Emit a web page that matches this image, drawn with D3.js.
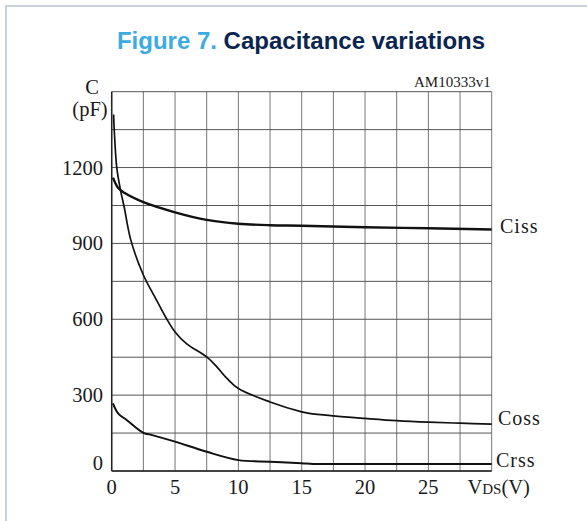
<!DOCTYPE html>
<html>
<head>
<meta charset="utf-8">
<script src="https://cdn.jsdelivr.net/npm/d3@7"></script>
<style>
  body { margin: 0; background: #fff; }
  svg text { font-family: "Liberation Serif", "Times New Roman", serif; fill: #1a1a1a; }
</style>
</head>
<body>
<div id="chart"></div>
<script>
// data (VDS in V, C in pF)
var vdsCiss = [0.1, 0.5, 1, 2.5, 5, 7.5, 10, 12.5, 15, 20, 25, 30];
var ciss    = [1160, 1120, 1100, 1063, 1023, 993, 978, 972, 970, 964, 960, 955];
var vdsCoss = [0.15, 0.2, 0.4, 0.7, 1.0, 1.5, 2.5, 3.55, 4.3, 5, 5.9, 7.5, 8.3, 9.1, 10, 12.5, 15, 15.6, 17.5, 20, 22.5, 25, 27.5, 30];
var coss    = [1410, 1350, 1200, 1110, 1040, 915, 775, 675, 605, 550, 504, 451, 412, 366, 326, 273, 234, 228, 218, 208, 199, 193, 189, 185];
var vdsCrss = [0.1, 0.5, 1.2, 2.5, 3.2, 5, 7.5, 10, 12.5, 15, 15.9, 20, 25, 30];
var crss    = [267, 228, 201, 151, 142, 116, 76, 43, 37, 31, 28, 28, 28, 28];
var seriesNames = ["Ciss", "Coss", "Crss"];
var xTickLabels = [0, 5, 10, 15, 20, 25];
var yTickLabels = [0, 300, 600, 900, 1200];
var xGrid = d3.range(0, 30.01, 2.5);
var yGrid = d3.range(0, 1500.01, 150);

var W = 587, H = 521;
var x = d3.scaleLinear().domain([0, 30]).range([111.7, 491.7]);
var y = d3.scaleLinear().domain([0, 1500]).range([471, 91.7]);

var svg = d3.select('#chart').append('svg')
  .attr('width', W).attr('height', H);

// card border (top and left visible)
svg.append('rect')
  .attr('x', 6).attr('y', 6).attr('width', W + 20).attr('height', H + 20)
  .attr('fill', 'none').attr('stroke', '#c9d2d8').attr('stroke-width', 2);

// title
var title = svg.append('text')
  .attr('x', 301).attr('y', 49).attr('text-anchor', 'middle')
  .style('font-family', '"Liberation Sans", Arial, sans-serif')
  .style('font-weight', 'bold').style('font-size', '24px');
title.append('tspan').text('Figure 7. ').style('fill', '#3dabe2');
title.append('tspan').text('Capacitance variations').style('fill', '#0a2550');

// grid
svg.append('g').selectAll('line.v')
  .data(xGrid).enter().append('line')
  .attr('x1', d => x(d)).attr('x2', d => x(d))
  .attr('y1', y(0)).attr('y2', y(1500))
  .attr('stroke', '#777').attr('stroke-width', 1);
svg.append('g').selectAll('line.h')
  .data(yGrid).enter().append('line')
  .attr('x1', x(0)).attr('x2', x(30))
  .attr('y1', d => y(d)).attr('y2', d => y(d))
  .attr('stroke', '#555').attr('stroke-width', 1);

// axes lines
svg.append('line').attr('x1', x(0)).attr('x2', x(0)).attr('y1', y(0)).attr('y2', y(1500))
  .attr('stroke', '#222').attr('stroke-width', 1.5);
svg.append('line').attr('x1', x(0)).attr('x2', x(30)).attr('y1', y(0)).attr('y2', y(0))
  .attr('stroke', '#222').attr('stroke-width', 1.5);

// tick labels
svg.append('g').selectAll('text')
  .data(yTickLabels).enter().append('text')
  .attr('x', 103).attr('y', d => d === 0 ? y(d) - 1 : y(d) + 7)
  .attr('text-anchor', 'end').style('font-size', '20.5px')
  .text(d => d);
svg.append('g').selectAll('text')
  .data(xTickLabels).enter().append('text')
  .attr('x', d => x(d)).attr('y', 494)
  .attr('text-anchor', 'middle').style('font-size', '20.5px')
  .text(d => d);

// x axis title VDS(V)
var xt = svg.append('text').attr('x', x(30) + 7).attr('y', 494)
  .attr('text-anchor', 'middle').style('font-size', '20.5px');
xt.append('tspan').text('V');
xt.append('tspan').text('DS').style('font-size', '15px');
xt.append('tspan').text('(V)');

// y axis title
svg.append('text').attr('x', 92).attr('y', 94).attr('text-anchor', 'middle')
  .style('font-size', '20.5px').text('C');
svg.append('text').attr('x', 90).attr('y', 116).attr('text-anchor', 'middle')
  .style('font-size', '20.5px').text('(pF)');

// figure code
svg.append('text').attr('x', x(30) - 1).attr('y', 87).attr('text-anchor', 'end')
  .style('font-size', '15px').text('AM10333v1');

// curves
var line = d3.line().x(d => x(d[0])).y(d => y(d[1])).curve(d3.curveCatmullRom.alpha(0.5));
var series = [
  { name: seriesNames[0], pts: d3.zip(vdsCiss, ciss), w: 2.4, ly: 233 },
  { name: seriesNames[1], pts: d3.zip(vdsCoss, coss), w: 1.7, ly: 425 },
  { name: seriesNames[2], pts: d3.zip(vdsCrss, crss), w: 2.0, ly: 467 }
];
svg.append('g').selectAll('path')
  .data(series).enter().append('path')
  .attr('d', d => line(d.pts))
  .attr('fill', 'none').attr('stroke', '#111')
  .attr('stroke-width', d => d.w);

svg.append('g').selectAll('text')
  .data(series).enter().append('text')
  .attr('x', (d, i) => [500, 498, 496][i]).attr('y', d => d.ly)
  .style('font-size', '20px').style('letter-spacing', '1px')
  .text(d => d.name);
</script>
</body>
</html>
